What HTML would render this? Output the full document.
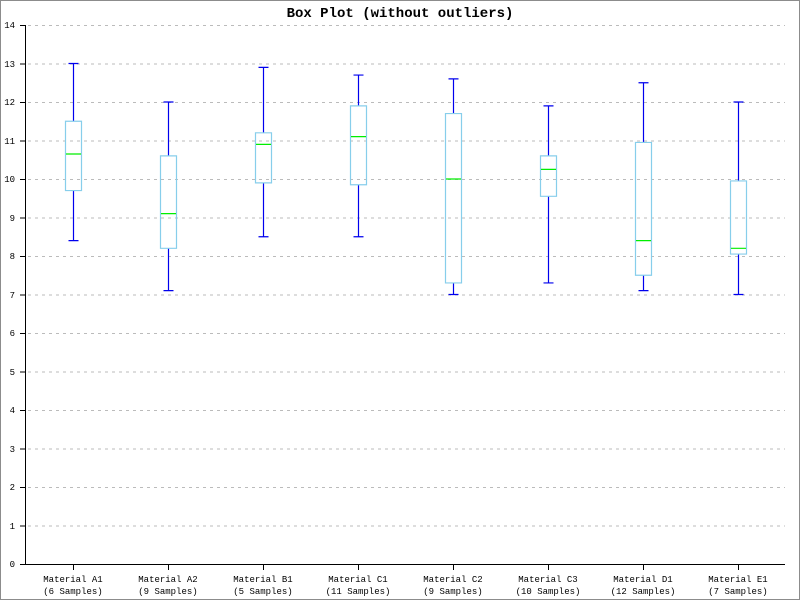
<!DOCTYPE html>
<html><head><meta charset="utf-8"><style>
body{margin:0;background:#fff}
svg{display:block}
text{font-family:"Liberation Mono",monospace}
</style></head><body>
<svg width="800" height="600" xmlns="http://www.w3.org/2000/svg">
<rect x="0.5" y="0.5" width="799" height="599" fill="#fff" stroke="#8c8c8c"/>
<text x="400" y="17" font-size="14" font-weight="bold" text-anchor="middle">Box Plot (without outliers)</text>
<g stroke="#bbb" stroke-dasharray="3,4" stroke-width="1">
<line x1="28" x2="785" y1="25.5" y2="25.5"/><line x1="28" x2="785" y1="64" y2="64"/><line x1="28" x2="785" y1="102.5" y2="102.5"/><line x1="28" x2="785" y1="141" y2="141"/><line x1="28" x2="785" y1="179.5" y2="179.5"/><line x1="28" x2="785" y1="218" y2="218"/><line x1="28" x2="785" y1="256.5" y2="256.5"/><line x1="28" x2="785" y1="295" y2="295"/><line x1="28" x2="785" y1="333.5" y2="333.5"/><line x1="28" x2="785" y1="372" y2="372"/><line x1="28" x2="785" y1="410.5" y2="410.5"/><line x1="28" x2="785" y1="449" y2="449"/><line x1="28" x2="785" y1="487.5" y2="487.5"/><line x1="28" x2="785" y1="526" y2="526"/>
</g>
<g stroke="#000" stroke-width="1">
<line x1="25.5" y1="25" x2="25.5" y2="564"/><line x1="20" y1="564.5" x2="785" y2="564.5"/>
<path d="M20 25.5h6M20 64h6M20 102.5h6M20 141h6M20 179.5h6M20 218h6M20 256.5h6M20 295h6M20 333.5h6M20 372h6M20 410.5h6M20 449h6M20 487.5h6M20 526h6"/>
<path d="M73.5 564v6M168.5 564v6M263.5 564v6M358.5 564v6M453.5 564v6M548.5 564v6M643.5 564v6M738.5 564v6"/>
</g>
<g font-size="9" text-anchor="end">
<text x="15" y="28">14</text><text x="15" y="67">13</text><text x="15" y="105">12</text><text x="15" y="144">11</text><text x="15" y="182">10</text><text x="15" y="221">9</text><text x="15" y="259">8</text><text x="15" y="298">7</text><text x="15" y="336">6</text><text x="15" y="375">5</text><text x="15" y="413">4</text><text x="15" y="452">3</text><text x="15" y="490">2</text><text x="15" y="529">1</text><text x="15" y="567">0</text>
</g>
<g font-size="9" text-anchor="middle">
<text x="73" y="582">Material A1</text><text x="73" y="594">(6 Samples)</text>
<text x="168" y="582">Material A2</text><text x="168" y="594">(9 Samples)</text>
<text x="263" y="582">Material B1</text><text x="263" y="594">(5 Samples)</text>
<text x="358" y="582">Material C1</text><text x="358" y="594">(11 Samples)</text>
<text x="453" y="582">Material C2</text><text x="453" y="594">(9 Samples)</text>
<text x="548" y="582">Material C3</text><text x="548" y="594">(10 Samples)</text>
<text x="643" y="582">Material D1</text><text x="643" y="594">(12 Samples)</text>
<text x="738" y="582">Material E1</text><text x="738" y="594">(7 Samples)</text>
</g>
<g transform="translate(0,564) scale(1,-38.5)" fill="none">
<path vector-effect="non-scaling-stroke" stroke="#0000ee" stroke-width="1.2" d="M73.5 8.4V9.7M73.5 11.5V13M68.5 8.4H78.5M68.5 13H78.5
M168.5 7.1V8.2M168.5 10.6V12M163.5 7.1H173.5M163.5 12H173.5
M263.5 8.5V9.9M263.5 11.2V12.9M258.5 8.5H268.5M258.5 12.9H268.5
M358.5 8.5V9.85M358.5 11.9V12.7M353.5 8.5H363.5M353.5 12.7H363.5
M453.5 7V7.3M453.5 11.7V12.6M448.5 7H458.5M448.5 12.6H458.5
M548.5 7.3V9.55M548.5 10.6V11.9M543.5 7.3H553.5M543.5 11.9H553.5
M643.5 7.1V7.5M643.5 10.95V12.5M638.5 7.1H648.5M638.5 12.5H648.5
M738.5 7V8.05M738.5 9.95V12M733.5 7H743.5M733.5 12H743.5"/>
<path vector-effect="non-scaling-stroke" stroke="#87ceeb" stroke-width="1.2" d="M65.5 9.7H81.5V11.5H65.5Z
M160.5 8.2H176.5V10.6H160.5Z
M255.5 9.9H271.5V11.2H255.5Z
M350.5 9.85H366.5V11.9H350.5Z
M445.5 7.3H461.5V11.7H445.5Z
M540.5 9.55H556.5V10.6H540.5Z
M635.5 7.5H651.5V10.95H635.5Z
M730.5 8.05H746.5V9.95H730.5Z"/>
<path vector-effect="non-scaling-stroke" stroke="#00ee00" stroke-width="1.2" d="M66 10.65H81M161 9.1H176M256 10.9H271M351 11.1H366M446 10H461M541 10.25H556M636 8.4H651M731 8.2H746"/>
</g>
</svg>
</body></html>
